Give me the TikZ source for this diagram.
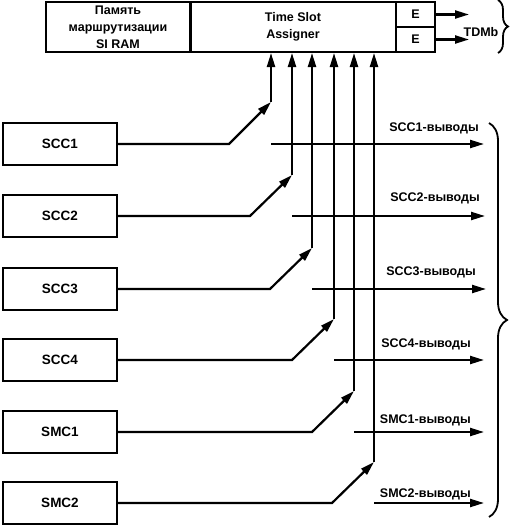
\documentclass[tikz,border=0pt]{standalone}
\usepackage{fontspec}
\setmainfont{Liberation Sans}
\usetikzlibrary{arrows.meta,decorations.pathreplacing}
\tikzset{
  unit/.style={draw, line width=2pt, inner sep=0pt, align=center, font=\fontsize{12.5}{17}\selectfont\bfseries},
  blk/.style={draw, line width=2pt, minimum width=114pt, minimum height=42pt, font=\fontsize{13.5}{15}\selectfont\bfseries},
  wire/.style={line width=2.2pt},
  tip/.style={-{Triangle[length=14pt,width=8pt]}},
  lbl/.style={font=\fontsize{12.5}{15}\selectfont\bfseries, inner sep=0pt, anchor=base east},
  brc/.style={decorate, line width=1.8pt},
}
\begin{document}
\begin{tikzpicture}[x=1pt,y=-1pt]
\useasboundingbox (0,0) rectangle (510,527);
% top unit
\node (mem) at (118,27) [unit, minimum width=145pt, minimum height=50pt] {Память\\маршрутизации\\SI RAM};
\node (tsa) at (293,27) [unit, minimum width=206pt, minimum height=50pt] {Time Slot\\Assigner};
\node (e1) at (415.5,14.5) [unit, minimum width=39pt, minimum height=25pt] {E};
\node (e2) at (415.5,39.5) [unit, minimum width=39pt, minimum height=25pt] {E};
\draw[wire,tip] (e1.east) -- ++(33,0);
\draw[wire,tip] (e2.east) -- ++(33,0);
\node (tdm) at (481,32) [font=\fontsize{12.5}{15}\selectfont\bfseries, inner sep=0pt] {TDMb};
\draw[brc, decoration={brace, amplitude=10pt}] (498,0) -- (498,53);

% channels
\node (scc1) at (60,144) [blk] {SCC1};
\node (scc2) at (60,216) [blk] {SCC2};
\node (scc3) at (60,289) [blk] {SCC3};
\node (scc4) at (60,360) [blk] {SCC4};
\node (smc1) at (60,432) [blk] {SMC1};
\node (smc2) at (60,503) [blk] {SMC2};

\coordinate (k1) at (271,102);
\coordinate (k2) at (292,175);
\coordinate (k3) at (312,248);
\coordinate (k4) at (334,319);
\coordinate (k5) at (354,391);
\coordinate (k6) at (374,462);

% inputs to the assigner
\draw[wire,tip] (scc1.east) -- ([xshift=-42pt]k1 |- scc1.east) -- (k1);
\draw[wire,tip] (scc2.east) -- ([xshift=-42pt]k2 |- scc2.east) -- (k2);
\draw[wire,tip] (scc3.east) -- ([xshift=-42pt]k3 |- scc3.east) -- (k3);
\draw[wire,tip] (scc4.east) -- ([xshift=-42pt]k4 |- scc4.east) -- (k4);
\draw[wire,tip] (smc1.east) -- ([xshift=-42pt]k5 |- smc1.east) -- (k5);
\draw[wire,tip] (smc2.east) -- ([xshift=-42pt]k6 |- smc2.east) -- (k6);
\draw[wire,tip] (k1) -- (k1 |- tsa.south);
\draw[wire,tip] (k2) -- (k2 |- tsa.south);
\draw[wire,tip] (k3) -- (k3 |- tsa.south);
\draw[wire,tip] (k4) -- (k4 |- tsa.south);
\draw[wire,tip] (k5) -- (k5 |- tsa.south);
\draw[wire,tip] (k6) -- (k6 |- tsa.south);

% outputs
\coordinate (o1) at (484,144);
\coordinate (o2) at (485,216);
\coordinate (o3) at (486,289);
\coordinate (o4) at (484,360);
\coordinate (o5) at (484,432);
\coordinate (o6) at (484,503);
\draw[wire,tip] (k1 |- o1) -- (o1);
\draw[wire,tip] (k2 |- o2) -- (o2);
\draw[wire,tip] (k3 |- o3) -- (o3);
\draw[wire,tip] (k4 |- o4) -- (o4);
\draw[wire,tip] (k5 |- o5) -- (o5);
\draw[wire,tip] (k6 |- o6) -- (o6);
\node (q1) at (479,131) [lbl] {SCC1-выводы};
\node (q2) at (480,201) [lbl] {SCC2-выводы};
\node (q3) at (476,275) [lbl] {SCC3-выводы};
\node (q4) at (471,347) [lbl] {SCC4-выводы};
\node (q5) at (471,423) [lbl] {SMC1-выводы};
\node (q6) at (471,497) [lbl] {SMC2-выводы};
\draw[brc, decoration={brace, amplitude=18pt}] (489,123) -- (489,517);
\end{tikzpicture}
\end{document}
